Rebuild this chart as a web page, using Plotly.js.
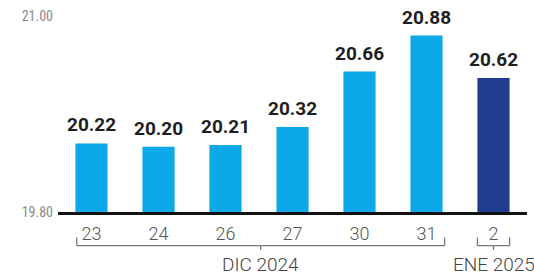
<!DOCTYPE html>
<html><head><meta charset="utf-8">
<script src="https://cdn.plot.ly/plotly-3.0.1.min.js"></script>
<style>html,body{margin:0;padding:0;background:#fff;}#chart{width:534px;height:279px;}</style>
</head><body><div id="chart"></div>
<script>
const categories = ['23','24','26','27','30','31','2'];
const values = [20.22, 20.20, 20.21, 20.32, 20.66, 20.88, 20.62];
const barColors = ['#0ca8e8','#0ca8e8','#0ca8e8','#0ca8e8','#0ca8e8','#0ca8e8','#1f3d8f'];
const yTickVals = [19.80, 21.00];
const yTickText = ['19.80', '21.00'];
const groups = [
  {label: 'DIC 2024', first: 0, last: 5},
  {label: 'ENE 2025', first: 6, last: 6}
];

const idx = categories.map((c,i)=>i);
const yMin = 19.8;
const trace = {
  type: 'bar', x: idx, y: values.map(v => v - yMin), base: yMin,
  marker: {color: barColors}, width: 0.48,
  hoverinfo: 'skip'
};

const annotations = values.map((v,i)=>({
  x: i, y: v, xref: 'x', yref: 'y', text: v.toFixed(2), showarrow: false,
  yanchor: 'bottom', yshift: 5,
  font: {family: 'Roboto, sans-serif', size: 19, color: '#1e1e1e', weight: 700}
}));
const shapes = [];
const lineStyle = {color: '#777', width: 1.3};
groups.forEach(g => {
  const single = g.first === g.last;
  const pad = single ? 0.24 : 0.22;
  const x0 = g.first - pad, x1 = g.last + pad + (single ? 0 : 0.05);
  const yb = -0.172;
  const mid = (x0 + x1) / 2;
  shapes.push({type:'line', xref:'x', yref:'paper', x0:x0, x1:x1, y0:yb, y1:yb, line:lineStyle});
  shapes.push({type:'line', xref:'x', yref:'paper', x0:x0, x1:x0, y0:yb, y1:yb+0.042, line:lineStyle});
  shapes.push({type:'line', xref:'x', yref:'paper', x0:x1, x1:x1, y0:yb, y1:yb+0.042, line:lineStyle});
  shapes.push({type:'line', xref:'x', yref:'paper', x0:mid, x1:mid, y0:yb, y1:yb-0.022, line:lineStyle});
  annotations.push({x: mid, y: -0.2, xref:'x', yref:'paper', text: g.label, showarrow:false,
    yanchor:'top', font:{family:'Roboto, sans-serif', size:19, color:'#444', weight:300}});
});

const layout = {
  width: 534, height: 279,
  margin: {l: 58, r: 7, t: 16, b: 67},
  paper_bgcolor: '#fff', plot_bgcolor: '#fff',
  showlegend: false,
  xaxis: {
    tickmode: 'array', tickvals: idx, ticktext: categories,
    range: [-0.5, 6.5], showgrid: false, zeroline: false,
    showline: true, linecolor: '#111', linewidth: 2.5,
    ticks: '', ticklabelstandoff: 4,
    tickfont: {family: 'Roboto, sans-serif', size: 18, color: '#555', weight: 300}
  },
  yaxis: {
    range: [19.8, 21.0], tickmode: 'array', tickvals: yTickVals, ticktext: yTickText,
    showgrid: true, gridcolor: '#d6d6d6', gridwidth: 1.2, zeroline: false, showline: false,
    ticks: '', ticklabelstandoff: 4,
    tickfont: {family: '"Liberation Sans Narrow", "Roboto Condensed", sans-serif', size: 14, color: '#8a8a8a'}
  },
  annotations: annotations,
  shapes: shapes
};
Plotly.newPlot('chart', [trace], layout, {staticPlot: true, displayModeBar: false});
</script></body></html>
